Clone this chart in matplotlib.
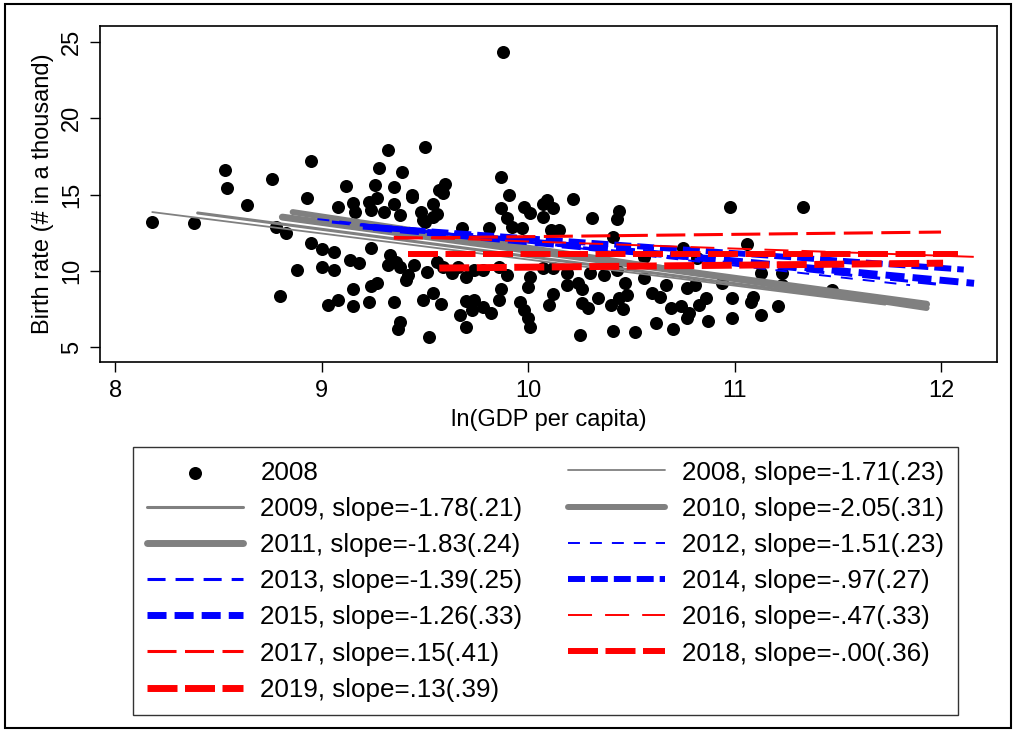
import matplotlib
matplotlib.use("Agg")
import matplotlib.pyplot as plt
from matplotlib.patches import Rectangle

plt.rcParams['font.family'] = ['Liberation Sans', 'DejaVu Sans']
plt.rcParams['lines.scale_dashes'] = False

# ---- scatter data (2008): ln(GDP per capita), birth rate ----
gdp = [8.18, 8.38, 8.53, 8.54, 8.64, 8.76, 8.78, 8.80, 8.83, 8.88, 8.93, 8.95, 8.95,
       9.00, 9.00, 9.03, 9.06, 9.06, 9.08, 9.08, 9.12, 9.14, 9.15, 9.16, 9.15, 9.15, 9.18,
       9.23, 9.24, 9.24, 9.23, 9.24, 9.27, 9.26, 9.27, 9.28, 9.30, 9.32, 9.33, 9.32, 9.35,
       9.35, 9.35, 9.36, 9.38, 9.38, 9.37, 9.38,
       9.39, 9.41, 9.44, 9.45, 9.48, 9.49, 9.49, 9.50, 9.51, 9.52, 9.54, 9.54, 9.56, 9.56,
       9.57, 9.58, 9.60, 9.59,
       9.63, 9.68, 9.70, 9.70, 9.67, 9.70, 9.74, 9.74, 9.73, 9.78, 9.78, 9.81, 9.82,
       9.87, 9.88, 9.87, 9.90, 9.91, 9.86, 9.90, 9.87, 9.86, 9.92, 9.97, 9.96, 9.98, 10.00,
       10.01, 9.98, 10.01, 10.01, 10.00,
       10.07, 10.09, 10.12, 10.07, 10.11, 10.15, 10.07, 10.12, 10.10, 10.12,
       10.19, 10.19, 10.22, 10.24, 10.26, 10.26, 10.29, 10.25, 10.30, 10.31, 10.34,
       10.37, 10.40, 10.41, 10.41, 10.43, 10.44, 10.43, 10.44, 10.46, 10.47, 10.48, 10.52,
       10.56, 10.56, 10.60, 10.62, 10.64, 10.67, 10.70, 10.69, 10.74, 10.75, 10.77, 10.81,
       10.78, 10.77, 10.82,
       10.83, 10.86, 10.87, 10.94, 10.98, 10.99, 10.99, 11.06, 11.09, 11.08, 11.13, 11.13,
       11.21, 11.23, 11.23, 11.33, 11.47,
       9.44, 9.50, 9.54, 9.59, 9.66, 9.42]
birth = [13.20, 13.13, 16.61, 15.43, 14.31, 16.02, 12.87, 8.34, 12.48, 10.05, 14.77, 17.20, 11.82,
         11.43, 10.25, 7.75, 11.23, 10.05, 14.18, 8.08, 15.56, 10.70, 14.44, 13.85, 8.80, 7.69, 10.51,
         14.51, 13.98, 11.49, 7.95, 9.00, 9.20, 15.62, 14.77, 16.74, 13.85, 17.92, 11.03, 10.38, 15.49,
         7.95, 14.38, 10.57, 10.25, 6.64, 6.18, 13.66,
         16.48, 9.39, 14.84, 10.38, 13.85, 13.33, 8.08, 18.11, 9.92, 5.66, 14.38, 8.54, 10.57, 13.72,
         15.30, 7.82, 15.69, 10.25,
         9.85, 12.80, 9.59, 8.02, 7.10, 6.31, 10.05, 8.08, 7.43, 7.62, 10.05, 12.80, 7.23,
         16.15, 24.34, 14.11, 13.46, 14.97, 10.25, 9.72, 8.80, 8.08, 12.87, 12.80, 7.95, 7.43, 6.90,
         6.31, 14.18, 13.79, 9.59, 8.93,
         14.38, 14.64, 14.11, 13.52, 12.67, 12.67, 10.18, 10.18, 7.75, 8.48,
         9.85, 9.07, 14.70, 9.20, 8.80, 7.89, 7.56, 5.79, 9.85, 13.46, 8.21,
         9.72, 7.75, 12.21, 6.05, 13.39, 13.92, 10.05, 8.21, 7.49, 9.20, 8.41, 5.98,
         10.90, 9.52, 8.54, 6.57, 8.28, 9.07, 6.18, 7.56, 7.69, 11.49, 8.87, 9.07,
         7.23, 6.90, 10.84,
         7.75, 8.21, 6.70, 9.20, 14.18, 8.21, 6.90, 11.75, 8.28, 7.95, 9.85, 7.10,
         7.69, 9.85, 9.07, 14.18, 8.74,
         14.97, 13.20, 13.52, 15.10, 10.25, 9.72]

# ---- fitted lines per year ----
fit_years = ["2008", "2009", "2010", "2011", "2012", "2013", "2014", "2015",
             "2016", "2017", "2018", "2019"]
slope_txt = ["-1.71", "-1.78", "-2.05", "-1.83", "-1.51", "-1.39", "-.97", "-1.26",
             "-.47", ".15", "-.00", ".13"]
se_txt = [".23", ".21", ".31", ".24", ".23", ".25", ".27", ".33", ".33", ".41", ".36", ".39"]
fit_x0 = [8.18, 8.40, 8.86, 8.81, 8.98, 9.05, 9.20, 9.25, 9.35, 9.35, 9.42, 9.57]
fit_x1 = [11.73, 11.73, 11.93, 11.93, 11.85, 12.00, 12.11, 12.16, 12.19, 12.00, 12.08, 12.01]
fit_y0 = [13.85, 13.79, 13.85, 13.52, 13.39, 13.20, 12.90, 12.85, 12.23, 12.14, 11.12, 10.18]
fit_y1 = [7.78, 7.86, 7.56, 7.81, 9.06, 9.10, 10.08, 9.18, 10.90, 12.54, 11.12, 10.50]

x_ticks = [8, 9, 10, 11, 12]
y_ticks = [5, 10, 15, 20, 25]

# styles (px -> pt at 100 dpi: *0.72)
GRAY, BLUE, RED = "#808080", "#0000FF", "#FF0000"
styles = [
    dict(color=GRAY, lw=1.3, dashes=None),
    dict(color=GRAY, lw=2.2, dashes=None),
    dict(color=GRAY, lw=4.3, dashes=None),
    dict(color=GRAY, lw=5.0, dashes=None),
    dict(color=BLUE, lw=1.4, dashes=(8.6, 7.2)),
    dict(color=BLUE, lw=2.2, dashes=(13.0, 7.2)),
    dict(color=BLUE, lw=4.3, dashes=(12.2, 4.3)),
    dict(color=BLUE, lw=5.0, dashes=(13.7, 5.8)),
    dict(color=RED, lw=1.4, dashes=(17.3, 9.4)),
    dict(color=RED, lw=2.2, dashes=(20.9, 6.1)),
    dict(color=RED, lw=4.3, dashes=(21.6, 5.4)),
    dict(color=RED, lw=5.0, dashes=(21.6, 5.4)),
]

W, H = 1014, 731
fig = plt.figure(figsize=(W / 100, H / 100), dpi=100)
fig.patch.set_facecolor("white")
ax = fig.add_axes([100 / W, 1 - 362 / H, (997 - 100) / W, (362 - 26) / H])

ax.scatter(gdp, birth, s=88, c="black", linewidths=0, zorder=2, label="2008")
for i, yr in enumerate(fit_years):
    st = styles[i]
    lab = f"{yr}, slope={slope_txt[i]}({se_txt[i]})"
    kw = dict(color=st["color"], lw=st["lw"], label=lab, zorder=3 + i)
    if st["dashes"] is None:
        kw["solid_capstyle"] = "round"
        ax.plot([fit_x0[i], fit_x1[i]], [fit_y0[i], fit_y1[i]], **kw)
    else:
        kw["dash_capstyle"] = "butt"
        ax.plot([fit_x0[i], fit_x1[i]], [fit_y0[i], fit_y1[i]], dashes=st["dashes"], **kw)

ax.set_xlim(7.927, 12.271)
ax.set_ylim(4.02, 26.05)
ax.set_xticks(x_ticks)
ax.set_yticks(y_ticks)
ax.tick_params(axis="both", direction="out", length=7, width=1.0, labelsize=17, colors="black")
ax.tick_params(axis="x", pad=6)
ax.tick_params(axis="y", pad=5)
for lbl in ax.get_yticklabels():
    lbl.set_rotation(90)
    lbl.set_va("center")
    lbl.set_ha("right")
for sp in ax.spines.values():
    sp.set_linewidth(1.2)
    sp.set_color("black")

ax.set_xlabel("ln(GDP per capita)", fontsize=17, labelpad=5)
ax.set_ylabel("Birth rate (# in a thousand)", fontsize=17, labelpad=5)

handles, labels = ax.get_legend_handles_labels()
# row-wise display order: column 1 = odd years + marker, column 2 = even-year lines
order = [0, 2, 4, 6, 8, 10, 12, 1, 3, 5, 7, 9, 11]
handles = [handles[k] for k in order]
labels = [labels[k] for k in order]
leg = fig.legend(handles, labels, ncol=2, loc="upper left",
                 bbox_to_anchor=(133 / W, 1 - 447 / H), bbox_transform=fig.transFigure,
                 fontsize=18.7, frameon=True, fancybox=False, edgecolor="black",
                 handlelength=3.73, handletextpad=0.65, columnspacing=1.77,
                 labelspacing=0.47, borderpad=0.52, scatterpoints=1, borderaxespad=0)
leg.get_frame().set_linewidth(1.0)

fig.patches.append(Rectangle((5 / W, 3 / H), (1011 - 5) / W, (727 - 3) / H,
                             transform=fig.transFigure, fill=False,
                             edgecolor="black", lw=1.5))

fig.savefig("out.png", dpi=100, facecolor="white")
